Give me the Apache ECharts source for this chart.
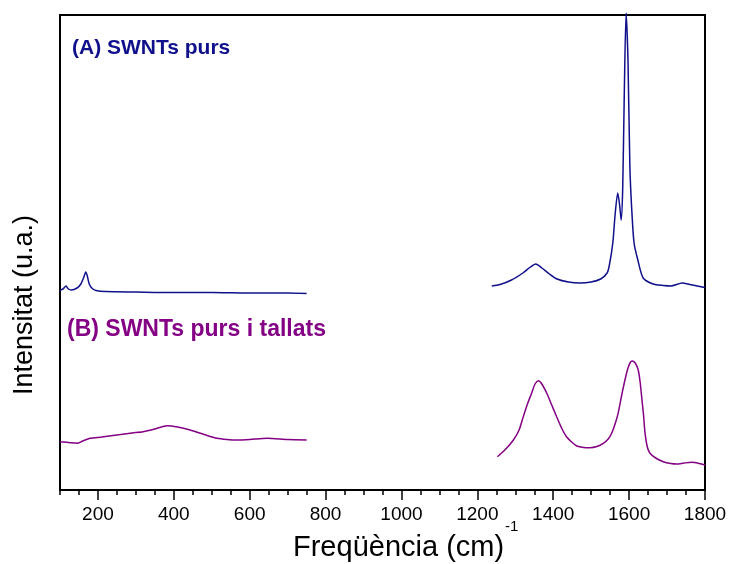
<!DOCTYPE html>
<html><head><meta charset="utf-8">
<script src="https://cdn.jsdelivr.net/npm/echarts@6/dist/echarts.min.js"></script>
<style>html,body{margin:0;padding:0;background:#fff}#c{width:734px;height:564px}</style>
</head><body><div id="c"></div>
<script>
// X tick labels (cm^-1)
const xTickLabels = [200, 400, 600, 800, 1000, 1200, 1400, 1600, 1800];

// (A) SWNTs purs — low-frequency segment
const aLowX = [100, 108, 116, 122, 130, 145, 155, 162, 168, 172, 177, 185, 195, 220, 300, 400, 500, 600, 700, 750];
const aLowY = [200, 201, 204, 201, 200, 202, 206, 212, 218, 214, 206, 201.5, 199.5, 198.5, 198, 197.5, 197.5, 197, 197, 196.5];
// (A) SWNTs purs — high-frequency segment
const aHighX = [1238, 1260, 1290, 1320, 1340, 1354, 1370, 1390, 1410, 1440, 1470, 1500, 1525, 1542, 1548, 1557, 1563, 1570, 1575, 1579, 1583, 1587, 1592, 1597, 1602, 1607, 1613, 1623, 1637, 1663, 1690, 1710, 1740, 1760, 1780, 1800];
const aHighY = [204, 205.5, 210, 217, 223, 226, 222, 216, 211, 208, 207, 208, 211, 217, 225, 247, 275, 297, 285, 270, 300, 390, 477, 430, 323, 280, 247, 230, 212, 206, 204.5, 204, 207, 205.5, 204, 202.5];

// (B) SWNTs purs i tallats — low-frequency segment
const bLowX = [100, 110, 126, 145, 160, 179, 210, 250, 290, 319, 350, 382, 410, 443, 480, 514, 540, 567, 600, 646, 700, 750];
const bLowY = [48.3, 48, 47.3, 46.7, 49, 51.7, 53, 55, 57, 58.3, 61, 64.3, 63, 60, 55.5, 51.7, 50.5, 50, 50.5, 51.7, 50.5, 50];
// (B) SWNTs purs i tallats — high-frequency segment
const bHighX = [1253, 1275, 1295, 1310, 1321, 1333, 1343, 1352, 1361, 1370, 1383, 1396, 1409, 1422, 1435, 1450, 1462, 1480, 1497, 1515, 1532, 1545, 1554, 1563, 1571, 1580, 1589, 1597, 1603, 1608, 1616, 1624, 1629, 1633, 1638, 1642, 1648, 1655, 1670, 1690, 1710, 1725, 1745, 1765, 1785, 1800];
const bHighY = [33.3, 41, 50, 60, 73.3, 87, 96.7, 106, 109.3, 106, 96.7, 85, 73.3, 62, 53.3, 47.5, 44, 42.5, 42.3, 43.5, 46.7, 51, 56.7, 66, 76.7, 94, 110, 122, 127.5, 129, 127, 120, 108, 93.3, 75, 56.7, 43, 36.7, 32, 28.3, 26.5, 26, 27, 27.7, 26.5, 25];

const zip = (xs, ys) => xs.map((x, i) => [x, ys[i]]);
const FONT = "'Liberation Sans', Arial, sans-serif";
const BLUE = '#10108c';
const PURPLE = '#840084';

const chart = echarts.init(document.getElementById('c'), null, { renderer: 'canvas' });

function lineSeries(data, color) {
  return {
    type: 'line', xAxisIndex: 0, yAxisIndex: 0, data: data,
    showSymbol: false, smooth: 0.25, clip: false, silent: true,
    lineStyle: { color: color, width: 1.5 }, animation: false
  };
}

chart.setOption({
  animation: false,
  backgroundColor: '#fff',
  grid: { left: 60, top: 15, width: 645, height: 475, show: true, borderColor: '#000', borderWidth: 2, backgroundColor: 'transparent' },
  xAxis: [
    {
      type: 'value', min: 100, max: 1800, interval: 50, position: 'bottom',
      axisLine: { show: false },
      axisTick: { show: true, length: 5, lineStyle: { color: '#000', width: 1.5 } },
      axisLabel: { show: false }, splitLine: { show: false }
    },
    {
      type: 'value', min: 100, max: 1800, position: 'bottom',
      axisLine: { show: false },
      axisTick: { show: true, length: 10, customValues: xTickLabels, lineStyle: { color: '#000', width: 1.5 } },
      axisLabel: { show: true, customValues: xTickLabels, formatter: v => String(v), fontSize: 19, color: '#000', fontFamily: FONT, margin: 15 },
      splitLine: { show: false }
    }
  ],
  yAxis: {
    type: 'value', min: 0, max: 475,
    axisLine: { show: false }, axisTick: { show: false }, axisLabel: { show: false }, splitLine: { show: false }
  },
  series: [
    lineSeries(zip(aLowX, aLowY), BLUE),
    lineSeries(zip(aHighX, aHighY), BLUE),
    lineSeries(zip(bLowX, bLowY), PURPLE),
    lineSeries(zip(bHighX, bHighY), PURPLE)
  ],
  graphic: [
    { type: 'text', left: 72, top: 38, style: { text: '(A) SWNTs purs', font: 'bold 21px ' + FONT, fill: BLUE } },
    { type: 'text', left: 67, top: 318, style: { text: '(B) SWNTs purs i tallats', font: 'bold 23px ' + FONT, fill: PURPLE } },
    { type: 'text', left: 293, top: 533, style: { text: 'Freqüència (cm)', font: '29px ' + FONT, fill: '#000' } },
    { type: 'text', left: 505, top: 519, style: { text: '-1', font: '15px ' + FONT, fill: '#000' } },
    { type: 'text', x: 25, y: 305, rotation: Math.PI / 2, style: { text: 'Intensitat (u.a.)', font: '27px ' + FONT, fill: '#000', align: 'center', verticalAlign: 'middle' } }
  ]
});
</script>
</body></html>
